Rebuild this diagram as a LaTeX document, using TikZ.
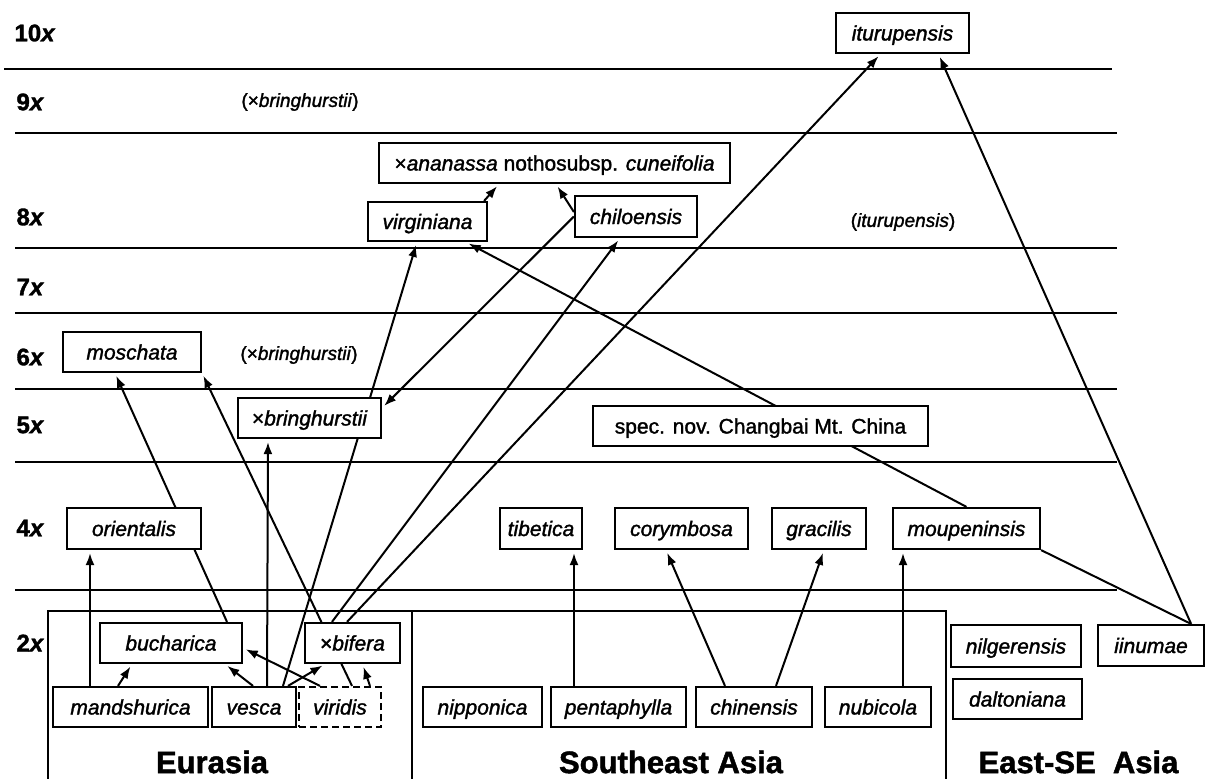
\documentclass[tikz,border=0pt]{standalone}
\usepackage{fontspec}
\setmainfont{Liberation Sans}[FakeBold=1.5]
\usetikzlibrary{arrows.meta,backgrounds}
\newcommand{\spsize}{\fontsize{21}{25}\selectfont}
\begin{document}
\begin{tikzpicture}[x=1pt,y=-1pt,
  box/.style={draw,line width=2.2pt,fill=white,inner sep=0pt,minimum height=40pt,
    text height=18pt,text depth=3pt,font=\spsize\itshape},
  lvl/.style={anchor=west,font=\fontsize{24}{28}\selectfont\bfseries},
  region/.style={font=\fontsize{31}{36}\selectfont\bfseries},
  note/.style={font=\fontsize{19}{23}\selectfont},
  sep/.style={line width=2pt},
  link/.style={line width=2pt},
  arr/.style={line width=2pt,shorten >=3pt,-{Latex[length=12pt,width=9pt]}}]
  \useasboundingbox (0,0) rectangle (1205,779);

  % ploidy levels
  \draw[sep] (4,69) -- (1112,69);
  \foreach \y in {133,248,313,389,462,590}
    \draw[sep] (15,\y) -- (1117,\y);
  \node[lvl] (l10) at (11,33) {10\textit{x}};
  \node[lvl] (l9) at (13,102) {9\textit{x}};
  \node[lvl] (l8) at (13,217) {8\textit{x}};
  \node[lvl] (l7) at (13,287) {7\textit{x}};
  \node[lvl] (l6) at (13,357) {6\textit{x}};
  \node[lvl] (l5) at (13,425) {5\textit{x}};
  \node[lvl] (l4) at (13,528) {4\textit{x}};
  \node[lvl] (l2) at (13,643) {2\textit{x}};

  % regions
  \draw[sep] (48,779) -- (48,611) -- (946,611) -- (946,779);
  \draw[sep] (412,611) -- (412,779);
  \node[region] (eurasia) at (212,762) {Eurasia};
  \node[region] (seasia) at (671,762) {Southeast Asia};
  \node[region] (esasia) at (1078.5,762) {East-SE\ \ Asia};

  \node[note] (n9) at (300,102) {(×\textit{bringhurstii})};
  \node[note] (n6) at (299,355) {(×\textit{bringhurstii})};
  \node[note] (n8) at (903,222) {(\textit{iturupensis})};

  % species
  \node[box,minimum width=133pt] (itur) at (902.5,33) {iturupensis};
  \node[box,minimum width=351pt] (ananassa) at (554.5,163) {\textup{×}ananassa \textup{nothosubsp.} cuneifolia};
  \node[box,minimum width=119pt,minimum height=39pt] (virg) at (427.5,221.5) {virginiana};
  \node[box,minimum width=122pt,minimum height=41pt] (chil) at (636,216.5) {chiloensis};
  \node[box,minimum width=138pt] (mosch) at (132,352) {moschata};
  \node[box,minimum width=143pt] (bring) at (309.5,418) {\textup{×}bringhurstii};
  \node[box,minimum width=335pt,font=\spsize] (specnov) at (760.5,426) {spec. nov. Changbai Mt. China};
  \node[box,minimum width=134pt,minimum height=41pt] (orient) at (134,528.5) {orientalis};
  \node[box,minimum width=82pt,minimum height=41pt] (tibet) at (541,528.5) {tibetica};
  \node[box,minimum width=133pt,minimum height=41pt] (corymb) at (681.5,528.5) {corymbosa};
  \node[box,minimum width=94pt,minimum height=41pt] (gracil) at (819,528.5) {gracilis};
  \node[box,minimum width=147pt,minimum height=41pt] (moupin) at (966.5,528.5) {moupeninsis};
  \node[box,minimum width=142pt] (buchar) at (171,643) {bucharica};
  \node[box,minimum width=95pt] (bifera) at (352.5,643) {\textup{×}bifera};
  \node[box,minimum width=155pt] (mandsh) at (130.5,707) {mandshurica};
  \node[box,minimum width=84pt] (vesca) at (254,707) {vesca};
  \node[box,minimum width=82pt,dash pattern=on 7pt off 4pt] (viridis) at (340,707) {viridis};
  \node[box,minimum width=119pt] (nippon) at (482.5,707) {nipponica};
  \node[box,minimum width=135pt] (pentaph) at (618.5,707) {pentaphylla};
  \node[box,minimum width=116pt] (chinen) at (754,707) {chinensis};
  \node[box,minimum width=106pt] (nubic) at (878,707) {nubicola};
  \node[box,minimum width=130pt,minimum height=42pt] (nilger) at (1016,646) {nilgerensis};
  \node[box,minimum width=106pt,minimum height=41pt] (iinumae) at (1151,645.5) {iinumae};
  \node[box,minimum width=129pt] (dalton) at (1017.5,699) {daltoniana};

  % origins
  \begin{scope}[on background layer]
    \draw[arr] ([xshift=-40.5pt]mandsh.north) -- ([xshift=-44pt]orient.south);
    \draw[arr] ([xshift=-12.5pt]mandsh.north) -- ([xshift=-39pt]buchar.south);
    \draw[arr] ([xshift=-1pt]vesca.north) -- ([xshift=54pt]buchar.south);
    \draw[arr] ([xshift=56pt]buchar.north) -- ([xshift=-17pt]mosch.south);
    \draw[arr] ([xshift=-20pt]viridis.north) -- ([yshift=-5pt]buchar.east);
    \draw[arr] ([xshift=34pt]vesca.north) -- ([xshift=-27.5pt]bifera.south);
    \draw[arr] ([xshift=12pt]viridis.north) -- (mosch.south east);
    \draw[arr] ([xshift=30pt]viridis.north) -- ([xshift=10pt]bifera.south);
    \draw[arr] ([xshift=13pt]vesca.north) -- ([xshift=-41.5pt]bring.south);
    \draw[arr] ([xshift=29pt]vesca.north) -- ([xshift=-10.5pt]virg.south);
    \draw[arr] (chil.west) -- ([yshift=10pt]bring.east);
    \draw[arr] ([xshift=-20.5pt]bifera.north) -- ([xshift=-16pt]chil.south);
    \draw[arr] ([xshift=-5.5pt]bifera.north) -- ([xshift=-22pt]itur.south);
    \draw[arr] ([xshift=-14pt]iinumae.north east) -- ([xshift=36pt]itur.south);
    \draw[link] (moupin.south east) -- ([xshift=-14pt]iinumae.north east);
    \draw[arr] (moupin.north) -- ([xshift=38.5pt]virg.south);
    \draw[arr] ([xshift=-4pt]virg.north east) -- ([xshift=-55.5pt]ananassa.south);
    \draw[arr] ([yshift=4.5pt]chil.west) -- ([xshift=1.5pt]ananassa.south);
    \draw[arr] ([xshift=-44.5pt]pentaph.north) -- ([xshift=33pt]tibet.south);
    \draw[arr] ([xshift=-29pt]chinen.north) -- ([xshift=-15.5pt]corymb.south);
    \draw[arr] ([xshift=22pt]chinen.north) -- ([xshift=5pt]gracil.south);
    \draw[arr] ([xshift=25pt]nubic.north) -- ([xshift=-63.5pt]moupin.south);
  \end{scope}
\end{tikzpicture}
\end{document}
